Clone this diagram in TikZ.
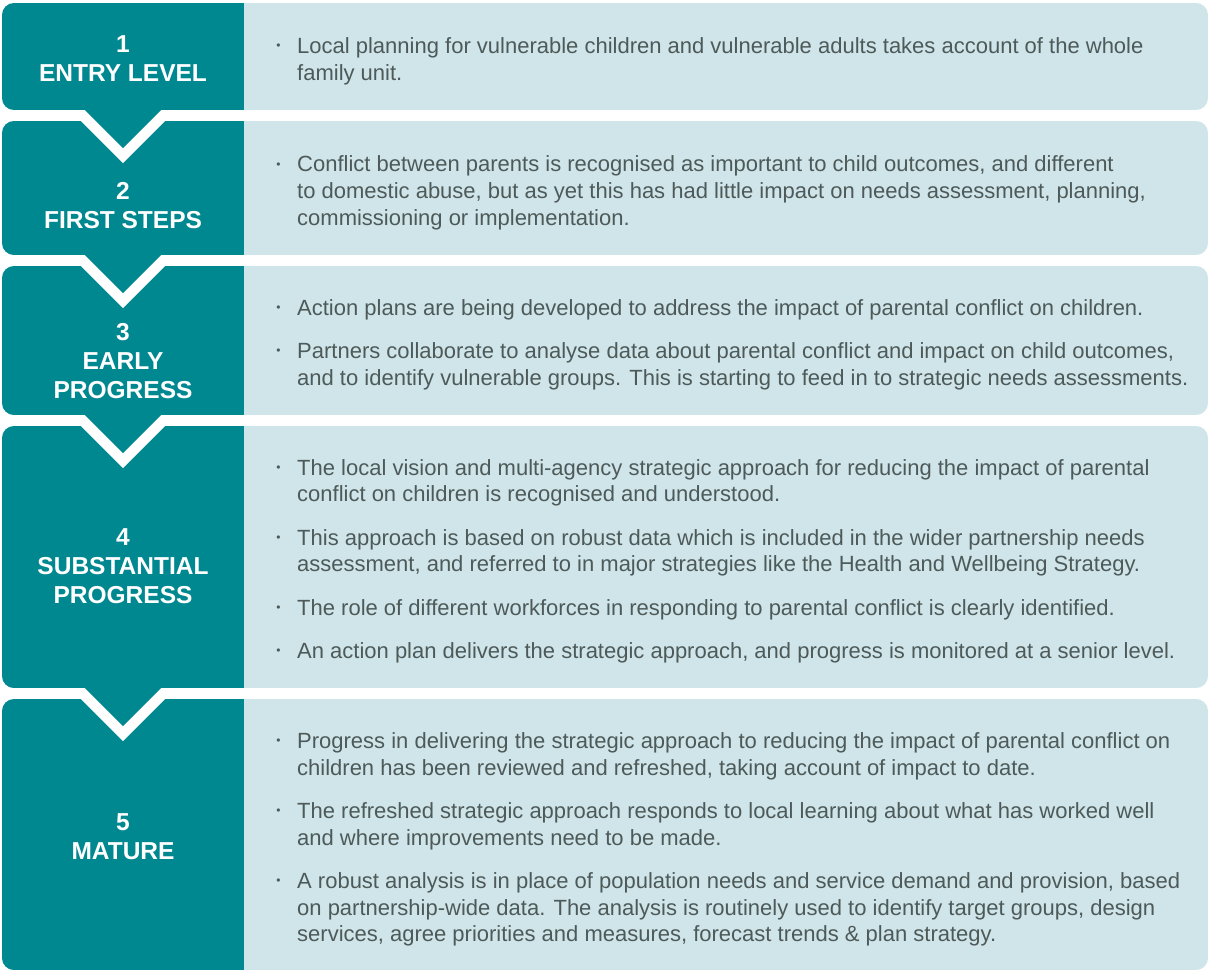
\documentclass[tikz,border=0pt]{standalone}
\usepackage{fontspec}
\setmainfont{Liberation Sans}
\definecolor{stageteal}{RGB}{0,136,145}
\definecolor{panelblue}{RGB}{207,229,233}
\definecolor{bodygray}{RGB}{78,90,89}
\tikzset{
  bodytext/.style={anchor=base west, inner sep=0pt, text=bodygray,
    font=\fontsize{22}{26.7}\selectfont},
  headtext/.style={anchor=base, inner sep=0pt, text=white,
    font=\fontsize{24.5}{29}\selectfont\bfseries},
  dotmark/.style={anchor=base, inner sep=0pt, text=bodygray,
    font=\fontsize{12}{12}\selectfont}
}
% one stage row: light panel with a teal label column, rounded outer corners
\newcommand\stagerow[2]{%
  \begin{scope}
    \clip[rounded corners=12pt] (2,#1) rectangle (1208,#2);
    \fill[panelblue] (2,#1) rectangle (1208,#2);
    \fill[stageteal] (2,#1) rectangle (244,#2);
  \end{scope}}
% downward chevron below a label column ending at y = #1
\newcommand\stagearrow[1]{%
  \fill[white] (70,#1) -- (123,#1+53) -- (176,#1) -- cycle;
  \fill[stageteal] (84,#1-1) -- (123,#1+38) -- (162,#1-1) -- cycle;}
% multi-line blocks keep the first line on the anchor baseline
\newcommand\leftlines[1]{\begin{tabular}[t]{@{}l@{}}#1\end{tabular}}
\newcommand\centerlines[1]{\begin{tabular}[t]{@{}c@{}}#1\end{tabular}}
% bullet item: name, first baseline, text
\newcommand\bulletitem[3]{%
  \node[dotmark] (#1-dot) at (278.5,#2) {\raisebox{3.7pt}{•}};
  \node[bodytext] (#1) at (297,#2) {\leftlines{#3}};}
\begin{document}
\begin{tikzpicture}[x=1pt,y=-1pt]
\useasboundingbox (0,0) rectangle (1210,972);

\stagerow{3}{110}
\stagerow{121}{255}
\stagerow{266}{415}
\stagerow{426}{688}
\stagerow{699}{970}

\stagearrow{110}
\stagearrow{255}
\stagearrow{415}
\stagearrow{688}

% stage labels
\node[headtext] (h1) at (123,52) {\centerlines{1\\ENTRY LEVEL}};
\node[headtext] (h2) at (123,199) {\centerlines{2\\FIRST STEPS}};
\node[headtext] (h3) at (123,340) {\centerlines{3\\EARLY\\PROGRESS}};
\node[headtext] (h4) at (123,545) {\centerlines{4\\SUBSTANTIAL\\PROGRESS}};
\node[headtext] (h5) at (123,830) {\centerlines{5\\MATURE}};

% stage descriptions
\bulletitem{s1a}{53.3}{Local planning for vulnerable children and vulnerable adults takes account of the whole\\family unit.}

\bulletitem{s2a}{171.7}{Conflict between parents is recognised as important to child outcomes, and different\\to domestic abuse, but as yet this has had little impact on needs assessment, planning,\\commissioning or implementation.}

\bulletitem{s3a}{315}{Action plans are being developed to address the impact of parental conflict on children.}
\bulletitem{s3b}{358.3}{Partners collaborate to analyse data about parental conflict and impact on child outcomes,\\and to identify vulnerable groups. This is starting to feed in to strategic needs assessments.}

\bulletitem{s4a}{475}{The local vision and multi-agency strategic approach for reducing the impact of parental\\conflict on children is recognised and understood.}
\bulletitem{s4b}{545}{This approach is based on robust data which is included in the wider partnership needs\\assessment, and referred to in major strategies like the Health and Wellbeing Strategy.}
\bulletitem{s4c}{615}{The role of different workforces in responding to parental conflict is clearly identified.}
\bulletitem{s4d}{658.3}{An action plan delivers the strategic approach, and progress is monitored at a senior level.}

\bulletitem{s5a}{748.5}{Progress in delivering the strategic approach to reducing the impact of parental conflict on\\children has been reviewed and refreshed, taking account of impact to date.}
\bulletitem{s5b}{818.5}{The refreshed strategic approach responds to local learning about what has worked well\\and where improvements need to be made.}
\bulletitem{s5c}{888.5}{A robust analysis is in place of population needs and service demand and provision, based\\on partnership-wide data. The analysis is routinely used to identify target groups, design\\services, agree priorities and measures, forecast trends \& plan strategy.}
\end{tikzpicture}
\end{document}
